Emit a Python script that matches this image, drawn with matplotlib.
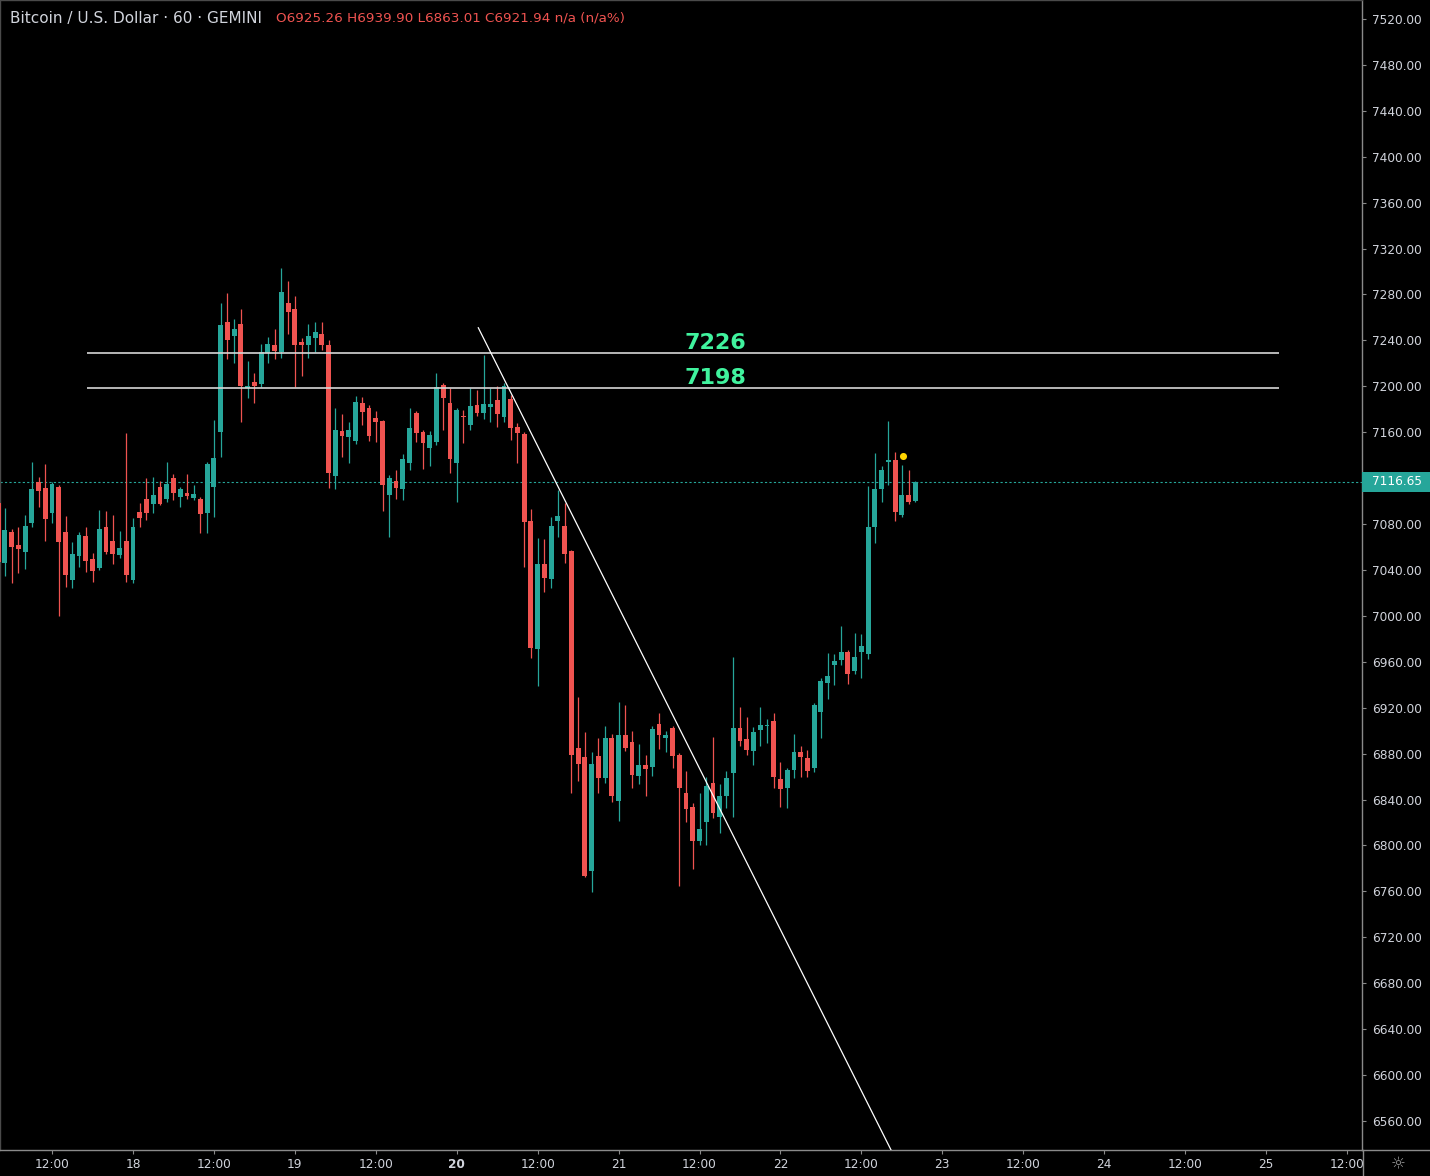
import matplotlib
matplotlib.use("Agg")
import matplotlib.pyplot as plt
import matplotlib.transforms as mtransforms
from matplotlib.patches import Rectangle
from matplotlib.lines import Line2D

# ---------------- data ----------------
# hour offsets relative to day "18" 00:00 (60-minute candles)
hours = list(range(-20, 117))

opens = [7098.4, 7046.1, 7073.1, 7061.8, 7055.7, 7081.0, 7116.7, 7111.5, 7089.7, 7112.3,
         7073.1, 7031.3, 7052.2, 7069.6, 7049.6, 7041.8, 7077.5, 7065.3, 7053.1, 7065.3,
         7031.3, 7090.5, 7101.9, 7097.5, 7112.3, 7101.9, 7120.2, 7103.6, 7107.1, 7102.7,
         7101.9, 7089.7, 7112.3, 7160.2, 7256.1, 7244.0, 7254.4, 7198.7, 7203.9, 7202.2,
         7229.2, 7236.2, 7230.0, 7272.7, 7267.5, 7238.8, 7236.2, 7242.3, 7245.7, 7236.2,
         7121.9, 7161.1, 7155.9, 7152.4, 7185.6, 7181.1, 7172.4, 7169.8, 7105.4, 7117.6,
         7110.6, 7133.3, 7176.8, 7160.2, 7146.3, 7151.5, 7201.3, 7185.6, 7133.3, 7174.2,
         7166.3, 7183.8, 7176.8, 7182.0, 7188.1, 7173.3, 7189.0, 7164.5, 7158.5, 7082.7,
         6971.2, 7045.2, 7032.2, 7082.7, 7078.4, 7056.6, 6885.0, 6877.2, 6777.9, 6878.1,
         6858.9, 6893.8, 6838.9, 6896.4, 6889.9, 6860.2, 6869.8, 6868.1, 6905.6, 6893.8,
         6902.2, 6878.9, 6845.8, 6833.6, 6804.0, 6820.5, 6854.5, 6824.9, 6843.2, 6863.2,
         6902.4, 6892.8, 6882.4, 6900.6, 6903.7, 6908.5, 6858.0, 6850.1, 6865.8, 6881.5,
         6876.3, 6867.5, 6916.3, 6941.6, 6957.2, 6961.5, 6968.5, 6952.3, 6968.6, 6966.8,
         7077.5, 7110.6, 7134.1, 7135.8, 7087.9, 7105.4, 7100.1]
highs = [7102.7, 7094.0, 7075.7, 7077.5, 7087.9, 7134.1, 7121.0, 7132.4, 7116.7, 7114.1,
         7087.1, 7064.4, 7073.1, 7077.5, 7054.8, 7092.3, 7091.4, 7087.9, 7074.0, 7159.4,
         7085.3, 7098.4, 7120.2, 7121.0, 7117.6, 7134.1, 7123.6, 7112.3, 7123.6, 7114.1,
         7103.6, 7134.1, 7170.7, 7272.7, 7281.4, 7258.8, 7267.5, 7222.1, 7211.7, 7237.0,
         7243.1, 7249.6, 7303.2, 7291.9, 7278.8, 7242.3, 7254.4, 7256.1, 7256.1, 7240.5,
         7181.1, 7175.9, 7168.9, 7191.7, 7190.8, 7183.8, 7178.5, 7170.7, 7122.8, 7127.1,
         7141.1, 7181.1, 7178.5, 7161.9, 7161.1, 7211.7, 7203.0, 7198.7, 7181.1, 7179.4,
         7198.7, 7197.0, 7227.3, 7198.7, 7200.4, 7203.0, 7192.5, 7168.1, 7160.2, 7093.2,
         7067.9, 7067.0, 7086.2, 7109.7, 7098.4, 7057.4, 6929.1, 6898.9, 6881.6, 6893.2,
         6904.3, 6897.3, 6925.2, 6922.5, 6899.5, 6888.8, 6878.9, 6904.3, 6915.2, 6899.5,
         6904.3, 6880.7, 6864.9, 6837.1, 6845.8, 6859.7, 6894.6, 6853.6, 6864.9, 6964.2,
         6920.7, 6912.0, 6903.3, 6920.7, 6910.2, 6915.5, 6872.8, 6867.5, 6897.2, 6886.7,
         6883.2, 6924.2, 6945.9, 6967.7, 6966.8, 6991.1, 6970.2, 6985.0, 6984.2, 7113.2,
         7141.9, 7130.6, 7169.8, 7142.7, 7131.5, 7127.1, 7117.6]
lows = [7040.0, 7034.8, 7028.7, 7037.4, 7040.9, 7077.5, 7094.9, 7065.3, 7081.0, 7000.0,
        7025.2, 7024.4, 7042.6, 7038.3, 7029.6, 7040.0, 7054.0, 7045.2, 7050.5, 7029.6,
        7028.7, 7077.5, 7083.6, 7089.7, 7096.6, 7099.3, 7101.0, 7094.9, 7101.9, 7101.0,
        7072.3, 7072.3, 7086.2, 7138.5, 7223.8, 7220.3, 7168.9, 7190.0, 7185.6, 7199.6,
        7220.3, 7223.8, 7224.7, 7245.7, 7199.6, 7209.1, 7224.7, 7230.0, 7231.7, 7111.5,
        7110.6, 7138.5, 7133.3, 7149.8, 7166.3, 7152.4, 7151.5, 7091.4, 7068.8, 7101.9,
        7101.0, 7127.1, 7151.5, 7128.0, 7130.6, 7148.9, 7161.9, 7124.5, 7099.3, 7150.6,
        7161.9, 7174.2, 7171.5, 7168.9, 7164.5, 7168.9, 7153.2, 7133.3, 7042.6, 6963.3,
        6938.6, 7020.9, 7024.4, 7068.8, 7046.1, 6845.8, 6856.2, 6772.7, 6759.1, 6845.8,
        6854.6, 6838.0, 6821.5, 6882.5, 6850.2, 6853.7, 6843.3, 6860.2, 6883.9, 6881.2,
        6867.7, 6764.4, 6820.5, 6779.6, 6800.5, 6800.5, 6824.0, 6810.9, 6832.7, 6824.9,
        6886.7, 6878.9, 6870.2, 6886.7, 6889.3, 6850.1, 6833.6, 6832.7, 6858.8, 6859.7,
        6859.7, 6864.1, 6893.7, 6927.7, 6939.8, 6957.2, 6941.0, 6949.3, 6945.8, 6962.5,
        7063.5, 7099.3, 7114.1, 7082.7, 7086.2, 7097.5, 7099.3]
closes = [7047.0, 7074.9, 7060.0, 7058.3, 7078.4, 7110.6, 7108.8, 7084.5, 7114.9, 7064.4,
          7035.7, 7054.0, 7070.5, 7047.9, 7039.2, 7075.7, 7055.7, 7054.0, 7059.2, 7035.7,
          7077.5, 7085.3, 7089.7, 7105.4, 7097.5, 7114.9, 7107.1, 7110.6, 7104.5, 7106.2,
          7088.8, 7132.4, 7137.6, 7253.5, 7240.5, 7250.1, 7200.4, 7200.4, 7200.4, 7230.0,
          7237.0, 7230.9, 7282.3, 7264.8, 7236.2, 7236.2, 7244.0, 7247.5, 7236.2, 7124.5,
          7161.9, 7156.7, 7161.9, 7186.4, 7177.7, 7156.7, 7168.9, 7114.1, 7120.2, 7111.5,
          7136.7, 7163.7, 7159.4, 7150.6, 7157.6, 7199.6, 7190.0, 7136.7, 7179.4, 7173.3,
          7182.9, 7176.8, 7184.6, 7184.6, 7175.9, 7200.4, 7163.7, 7159.4, 7081.8, 6972.0,
          7045.2, 7033.0, 7078.4, 7087.1, 7054.0, 6878.9, 6871.0, 6773.5, 6871.1, 6858.9,
          6893.8, 6843.3, 6896.4, 6885.1, 6861.1, 6869.8, 6866.3, 6901.2, 6896.0, 6896.4,
          6878.1, 6850.2, 6831.9, 6804.0, 6814.4, 6851.9, 6828.4, 6843.2, 6858.8, 6902.4,
          6891.1, 6883.2, 6898.9, 6905.0, 6904.1, 6859.7, 6849.3, 6865.8, 6881.5, 6877.1,
          6864.9, 6922.4, 6943.3, 6947.7, 6960.7, 6968.5, 6949.3, 6964.5, 6973.6, 7077.5,
          7110.6, 7127.1, 7135.8, 7090.5, 7105.4, 7099.3, 7116.65]

last_price = 7116.65
level_values = [7229.0, 7198.5]
level_labels = ["7226", "7198"]
level_span = [-6.8, 169.9]
level_label_x = 86.4
trend_x = [51.2, 112.4]
trend_y = [7251.0, 6534.7]
marker_x = [114.2]
marker_y = [7139.3]

xtick_pos = list(range(-12, 181, 12))
xtick_labels = ["12:00", "18", "12:00", "19", "12:00", "20", "12:00", "21", "12:00",
                "22", "12:00", "23", "12:00", "24", "12:00", "25", "12:00"]
ytick_pos = list(range(6560, 7521, 40))

title_text = "Bitcoin / U.S. Dollar · 60 · GEMINI"
ohlc_text = "O6925.26 H6939.90 L6863.01 C6921.94 n/a (n/a%)"

# ---------------- style ----------------
UP = "#26a69a"
DOWN = "#ef5350"
TXT = "#d1d4dc"
AX = "#8a8a8a"

W, H = 1430, 1176
fig = plt.figure(figsize=(W / 100, H / 100), dpi=100, facecolor="black")
ax = fig.add_axes([0, 26 / H, 1362 / W, 1 - 26 / H])
ax.set_facecolor("black")

colors = [UP if c >= o else DOWN for o, c in zip(opens, closes)]
ax.vlines(hours, lows, highs, colors=colors, linewidth=0.9, zorder=2)
bottoms = [min(o, c) for o, c in zip(opens, closes)]
heights = [max(abs(c - o), 1.2) for o, c in zip(opens, closes)]
ax.bar(hours, heights, bottom=bottoms, width=0.72, color=colors, linewidth=0, zorder=3)

# last price dotted line
ax.axhline(last_price, color=UP, linewidth=0.8, linestyle=(0, (2, 2)), zorder=1)

# horizontal levels
for lv, lab in zip(level_values, level_labels):
    ax.hlines(lv, level_span[0], level_span[1], color="#d6d6d6", linewidth=1.2, zorder=4)
    ax.annotate(lab, (level_label_x, lv), xytext=(0, 3), textcoords="offset points",
                ha="center", va="baseline", color="#40f39e", fontsize=16,
                fontweight="bold", zorder=5)

# trend line
ax.plot(trend_x, trend_y, color="white", linewidth=0.9, zorder=4)

# marker dot
ax.scatter(marker_x, marker_y, s=26, color="#ffd400", zorder=6, linewidths=0)

ax.set_xlim(-19.72, 182.23)
ax.set_ylim(6534.7, 7536.55)

ax.set_xticks(xtick_pos)
ax.set_xticklabels(xtick_labels)
ax.set_yticks(ytick_pos)
ax.set_yticklabels([f"{v:.2f}" for v in ytick_pos])
ax.yaxis.tick_right()
ax.tick_params(axis="both", colors=AX, labelcolor=TXT, labelsize=8.7, length=3, width=0.8)
ax.tick_params(axis="y", pad=4)
ax.tick_params(axis="x", pad=3)
ax.get_xticklabels()[5].set_fontweight("bold")

for side in ["right", "bottom"]:
    ax.spines[side].set_color(AX)
    ax.spines[side].set_linewidth(1)
for side in ["left", "top"]:
    ax.spines[side].set_color("#4a4a4a")
    ax.spines[side].set_linewidth(1)

# price tag
tr = mtransforms.blended_transform_factory(ax.transAxes, ax.transData)
ax.add_patch(Rectangle((1.0, last_price - 8.3), 68 / 1362, 16.6, transform=tr,
                       facecolor=UP, edgecolor="none", clip_on=False, zorder=7))
ax.text(1.0 + 35 / 1362, last_price, f"{last_price:.2f}", transform=tr, ha="center",
        va="center", color="white", fontsize=8.7, clip_on=False, zorder=8)

# separators extending into axis areas
fig.add_artist(Line2D([1362.5 / W, 1362.5 / W], [0, 26 / H], color=AX, linewidth=1))
fig.add_artist(Line2D([1362 / W, 1], [26 / H, 26 / H], color=AX, linewidth=1))

# header
fig.text(10 / W, 1 - 18 / H, title_text, color=TXT, fontsize=11, va="center", ha="left")
fig.text(276 / W, 1 - 18 / H, ohlc_text, color=DOWN, fontsize=9.7, va="center", ha="left")

# settings icon
fig.text(1398 / W, 1 - 1164 / H, "☼", color="#9a9a9a", fontsize=12, ha="center", va="center")

fig.savefig("out.png", dpi=100, facecolor="black")
